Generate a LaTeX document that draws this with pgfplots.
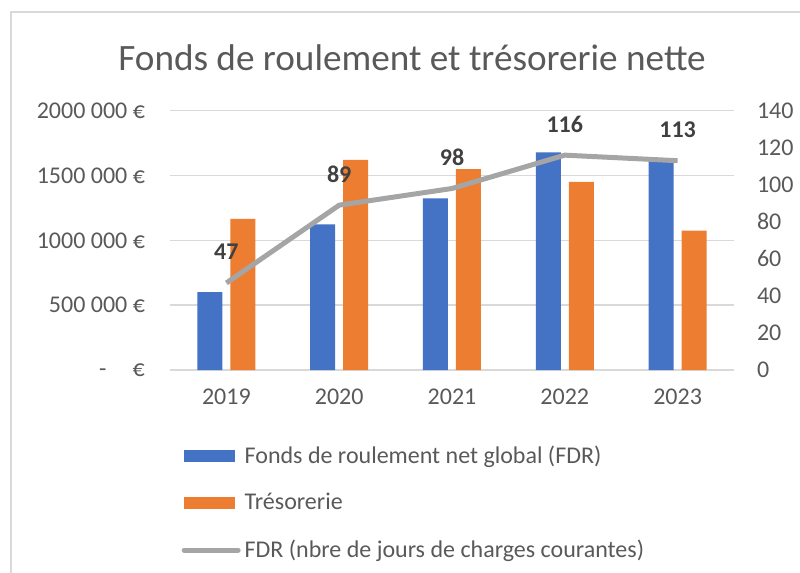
\documentclass[border=0pt]{standalone}
\usepackage{pgfplots}
\pgfplotsset{compat=1.18}
\usepackage{fontspec}
\setmainfont{Carlito}
\definecolor{cblue}{HTML}{4472C4}
\definecolor{corange}{HTML}{ED7D31}
\definecolor{cgrey}{HTML}{A5A5A5}
\definecolor{ctext}{HTML}{595959}
\definecolor{clab}{HTML}{404040}
\definecolor{cgrid}{HTML}{D9D9D9}
\begin{document}
\begin{tikzpicture}
\useasboundingbox (0pt,0pt) rectangle (400pt,-286.5pt);
\draw[cgrid, line width=0.75pt] (5.5pt,-286.5pt) -- (5.5pt,-6pt) -- (400pt,-6pt);
\node[ctext, font=\fontsize{18.6}{21}\selectfont] at (206pt,-29pt) {Fonds de roulement et trésorerie nette};
\begin{axis}[
  at={(85pt,-185pt)}, anchor=origin,
  scale only axis, width=282pt, height=129.65pt,
  enlargelimits=false,
  ybar=4pt, bar width=12.5pt,
  xmin=0, xmax=5, ymin=0, ymax=2000000,
  xtick={0.5,1.5,2.5,3.5,4.5}, xticklabels={2019,2020,2021,2022,2023},
  ytick={0,500000,1000000,1500000,2000000},
  yticklabels={{-\hspace{1.1em}€},{500 000 €},{1000 000 €},{1500 000 €},{2000 000 €}},
  scaled y ticks=false,
  axis line style={draw=none},
  major tick length=0pt,
  ymajorgrids, grid style={cgrid, line width=0.75pt},
  tick label style={ctext, font=\fontsize{12}{14}\selectfont},
  xticklabel style={yshift=-6pt},
  yticklabel style={xshift=-9pt},
  legend style={at={(0.02,-0.275)}, anchor=north west, draw=none, fill=none,
    font=\fontsize{12}{14}\selectfont, text=ctext, row sep=9.5pt,
    inner sep=0pt},
  legend cell align=left,
]
\addplot[fill=cblue, draw=none, legend image code/.code={\fill[cblue] (0pt,-3pt) rectangle (25.5pt,3pt);}]
  coordinates {(0.5,601000) (1.5,1124000) (2.5,1324000) (3.5,1679000) (4.5,1612000)};
\addlegendentry{Fonds de roulement net global (FDR)}
\addplot[fill=corange, draw=none, legend image code/.code={\fill[corange] (0pt,-3pt) rectangle (25.5pt,3pt);}]
  coordinates {(0.5,1165000) (1.5,1620000) (2.5,1550000) (3.5,1452000) (4.5,1075000)};
\addlegendentry{Trésorerie}
\addlegendimage{legend image code/.code={\draw[cgrey, line width=2.5pt, line cap=round] (0pt,0pt) -- (27pt,0pt);}}
\addlegendentry{FDR (nbre de jours de charges courantes)}
\end{axis}
\begin{axis}[
  at={(85pt,-185pt)}, anchor=origin,
  scale only axis, width=282pt, height=129.65pt,
  enlargelimits=false,
  xmin=0, xmax=5, ymin=0, ymax=140,
  hide x axis,
  axis y line*=right,
  axis line style={draw=none},
  major tick length=0pt,
  ytick={0,20,...,140},
  /pgf/number format/assume math mode=true,
  tick label style={ctext, font=\fontsize{12}{14}\selectfont},
  yticklabel style={xshift=8pt},
]
\addplot[cgrey, line width=2.5pt, line join=round, mark=none,
  nodes near coords,
  every node near coord/.append style={anchor=center, yshift=15.5pt, text=clab, font=\bfseries\fontsize{12}{14}\selectfont}]
  coordinates {(0.5,47) (1.5,89) (2.5,98) (3.5,116) (4.5,113)};
\end{axis}
\end{tikzpicture}
\end{document}
